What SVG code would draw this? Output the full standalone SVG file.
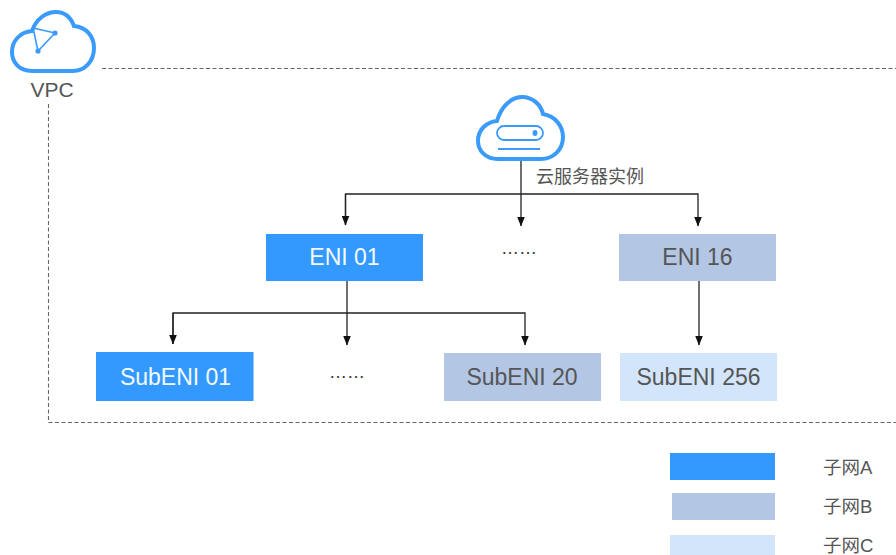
<svg xmlns="http://www.w3.org/2000/svg" width="896" height="555" viewBox="0 0 896 555">
<style>
text{font-family:"Liberation Sans","Noto Sans CJK SC",sans-serif;fill:#555}
.n{font-size:23px;text-anchor:middle}
.w{fill:#f4f9ff}
.a{fill:#3399ff}.b{fill:#b3c6e4}.c{fill:#d2e5fa}
.ic{fill:none;stroke:#3a9bfb;stroke-width:4}
.l{fill:none;stroke:#222;stroke-width:1.300}
.d{fill:none;stroke:#666;stroke-width:1.100;stroke-dasharray:4 2.500}
.k{font-size:18.500px}
.t{font-size:18px;text-anchor:middle;fill:#333}
</style>
<defs><marker id="ar" markerUnits="userSpaceOnUse" markerWidth="10" markerHeight="8" refX="9" refY="4" orient="auto"><path d="M0 0.200L9.500 4L0 7.800z" fill="#111"/></marker></defs>
<g id="connectors">
<path class="d" d="M102 68.500H896"/>
<path class="d" d="M48.500 104V422.500H896"/>
<path class="l" d="M521 160V226" marker-end="url(#ar)"/>
<path class="l" d="M345.500 225V194H698V226" marker-end="url(#ar)"/>
<path class="l" d="M345.500 194V225" marker-end="url(#ar)"/>
<path class="l" d="M347 281V345" marker-end="url(#ar)"/>
<path class="l" d="M173 344V313H525V345" marker-end="url(#ar)"/>
<path class="l" d="M173 313V344" marker-end="url(#ar)"/>
<path class="l" d="M699 281V345" marker-end="url(#ar)"/>
</g>
<g id="vpc">
<path class="ic" d="M32 71C18 71 12 61 12 52C12 41 20 32 32 31C36 19 46 12 56 12C66 12 71 18 74 26C86 27 94 36 94 48C94 61 85 71 73 71Z"/>
<path fill="none" stroke="#3a9bfb" stroke-width="1.600" d="M33 28L55 33L38 51Z"/>
<circle cx="55" cy="33" r="2.600" fill="#3a9bfb"/><circle cx="38" cy="51" r="2.600" fill="#3a9bfb"/>
<text x="52" y="97" font-size="21" text-anchor="middle">VPC</text>
</g>
<g id="server">
<path class="ic" d="M498 159C485 159 478 150 478 141C478 130 486 122 497 121C501 107 511 97 522 97C533 97 541 105 543 114C555 116 563 126 563 137C563 150 553 159 541 159Z"/>
<rect x="497" y="126" width="46" height="14" rx="7" fill="none" stroke="#3a9bfb" stroke-width="1.800"/>
<ellipse cx="535" cy="133" rx="2.500" ry="3" fill="#3a9bfb"/>
<path d="M498 149H540" stroke="#3a9bfb" stroke-width="2"/>
<text x="536" y="183" font-size="18">云服务器实例</text>
</g>
<g id="eni01"><rect class="a" x="266" y="234" width="157" height="47"/><text class="n w" x="344.500" y="265">ENI 01</text></g>
<g id="dots1"><text class="t" x="519" y="254">……</text></g>
<g id="eni16"><rect class="b" x="619" y="234" width="157" height="47"/><text class="n" x="697.500" y="265">ENI 16</text></g>
<g id="subeni01"><rect class="a" x="96" y="352" width="157.500" height="49"/><text class="n w" x="175.500" y="385">SubENI 01</text></g>
<g id="dots2"><text class="t" x="347" y="378">……</text></g>
<g id="subeni20"><rect class="b" x="444" y="353" width="157" height="48"/><text class="n" x="522" y="385">SubENI 20</text></g>
<g id="subeni256"><rect class="c" x="620" y="353" width="157" height="48"/><text class="n" x="698.500" y="385">SubENI 256</text></g>
<g id="legend-a"><rect class="a" x="670" y="453" width="105" height="27"/><text class="k" x="823" y="474">子网A</text></g>
<g id="legend-b"><rect class="b" x="672" y="493" width="103" height="27"/><text class="k" x="823" y="513">子网B</text></g>
<g id="legend-c"><rect class="c" x="670" y="535" width="105" height="20"/><text class="k" x="823" y="552">子网C</text></g>
</svg>
